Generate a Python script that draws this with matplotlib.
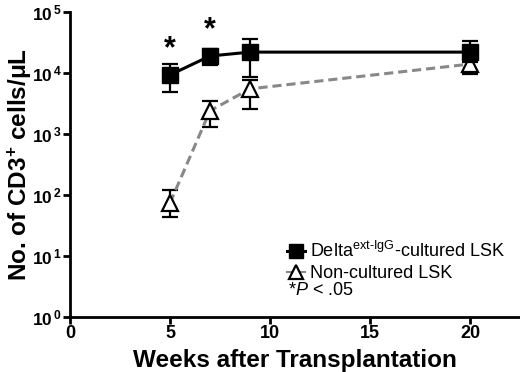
import matplotlib
matplotlib.use("Agg")
import matplotlib.pyplot as plt
import numpy as np
from matplotlib.lines import Line2D

plt.rcParams['font.family'] = ['Liberation Sans', 'DejaVu Sans']
plt.rcParams['mathtext.fontset'] = 'custom'
plt.rcParams['mathtext.rm'] = 'Liberation Sans'
plt.rcParams['mathtext.bf'] = 'Liberation Sans:bold'
plt.rcParams['mathtext.it'] = 'Liberation Sans:italic'

weeks = [5, 7, 9, 20]
delta_mean = [9300, 19000, 22000, 22000]
delta_upper = [14000, 24500, 36000, 33000]
delta_lower = [4900, 13500, 8600, 15000]
non_mean = [74, 2400, 5500, 14000]
non_upper = [120, 3500, 7700, 20000]
non_lower = [44, 1300, 2600, 9600]
star_weeks = [5, 7]
star_y = [24500, 50000]
xticks = [0, 5, 10, 15, 20]
ytick_exps = [0, 1, 2, 3, 4, 5]

fig = plt.figure(figsize=(5.2, 3.72), dpi=100)
ax = fig.add_axes([70/520, 55/372, 449/520, 305/372])

dm = np.array(delta_mean); nm = np.array(non_mean)
ax.errorbar(weeks, nm, yerr=[nm - np.array(non_lower), np.array(non_upper) - nm],
            color='#888888', ls=(0, (3, 1.6)), lw=2.2, marker='^', ms=11,
            mfc='white', mec='black', mew=1.6, ecolor='black', elinewidth=1.6,
            capsize=6, capthick=1.6, zorder=2)
ax.errorbar(weeks, dm, yerr=[dm - np.array(delta_lower), np.array(delta_upper) - dm],
            color='black', ls='-', lw=2.2, marker='s', ms=11,
            mfc='black', mec='black', ecolor='black', elinewidth=1.6,
            capsize=6, capthick=1.6, zorder=3)

for xs, ys in zip(star_weeks, star_y):
    ax.text(xs, ys, '*', ha='center', va='center', fontsize=22, fontweight='bold')

ax.set_yscale('log')
ax.set_ylim(1, 1e5)
ax.set_xlim(0, 22.45)
ax.set_xticks(xticks)
ax.set_xticklabels([str(t) for t in xticks], fontsize=13, fontweight='bold')
ax.set_yticks([10.0**e for e in ytick_exps])
ax.set_yticklabels([r'$\mathbf{10^{\,%d}}$' % e for e in ytick_exps], fontsize=12.5)
ax.yaxis.set_minor_locator(matplotlib.ticker.NullLocator())
for s in ['top', 'right']:
    ax.spines[s].set_visible(False)
for s in ['left', 'bottom']:
    ax.spines[s].set_linewidth(2)
ax.tick_params(axis='both', width=2, length=5, pad=1)

ax.set_xlabel('Weeks after Transplantation', fontsize=17.5, fontweight='bold', labelpad=5)
ax.set_ylabel(r'No. of CD3$^{\mathbf{+}}$ cells/μL', fontsize=17.5, fontweight='bold', va='center')
ax.yaxis.set_label_coords(-0.111, 0.5)

h1 = Line2D([], [], color='black', lw=2.2, marker='s', ms=10, mfc='black', mec='black')
h2 = Line2D([], [], color='#888888', lw=1.5, marker='^', ms=10, mfc='white', mec='black', mew=1.6)
leg = ax.legend([h1, h2], [r'Delta$^{\text{ext-IgG}}$-cultured LSK', 'Non-cultured LSK'],
                loc='upper left', bbox_to_anchor=(217/449, 0.248), frameon=False,
                fontsize=13, handlelength=1.0, handletextpad=0.3, labelspacing=0.2,
                borderaxespad=0, borderpad=0)
ax.text(218/449, 0.086, r'*$\it{P}$ < .05', transform=ax.transAxes, fontsize=13, va='center')

fig.savefig('out.png', dpi=100)
